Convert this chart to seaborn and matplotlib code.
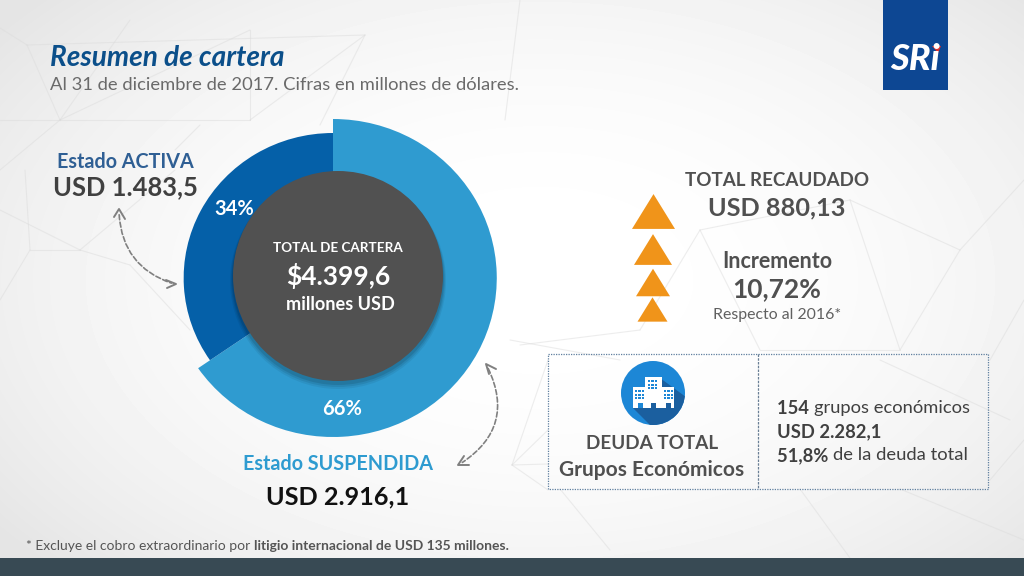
"""
Resumen de cartera - donut chart slide, redrawn with seaborn/matplotlib.
Output: out.png
"""

import numpy as np
import pandas as pd
import matplotlib
matplotlib.use("Agg")
import matplotlib.pyplot as plt
import seaborn as sns
from matplotlib.patches import Circle, Rectangle, Polygon, FancyArrowPatch

# Data
estados = ["Estado SUSPENDIDA", "Estado ACTIVA"]
# slice shares as drawn on the slide (its labels round them to 66% / 34%)
cartera_pct = [65.4, 34.6]
porcentajes = ["66%", "34%"]
triangulos_x = [653.5, 653, 653, 652.5]
triangulos_y = [211.5, 249.5, 282.5, 309.5]
triangulos_ancho = [43, 38, 34, 30]

# Colours
AZUL_CLARO = "#2f9bd0"
AZUL_OSCURO = "#0560a8"
GRIS_CENTRO = "#515151"
NARANJA = "#f0941a"
TEXTO = "#505050"

sns.set_theme(style="white")
plt.rcParams["font.family"] = ["Lato", "DejaVu Sans"]

fig = plt.figure(figsize=(10.24, 5.76), dpi=100)

# --- Background: soft vignette and faint network lines ---
bg = fig.add_axes([0, 0, 1, 1], zorder=0)
yy, xx = np.mgrid[0:576, 0:1024]
dist = np.sqrt(((xx - 540) / 620) ** 2 + ((yy - 280) / 380) ** 2)
bg.imshow(1 - 0.085 * np.clip(dist, 0, 1.1) ** 2.2, cmap="gray", vmin=0, vmax=1,
          extent=(0, 1024, 576, 0), aspect="auto")
lineas = [
    ((27, 45), (365, 35)), ((27, 45), (60, 120)), ((0, 28), (27, 45)), ((60, 120), (250, 30)),
    ((365, 35), (250, 120)), ((365, 35), (320, 125)), ((250, 30), (250, 120)), ((60, 120), (250, 120)),
    ((130, 20), (60, 120)), ((0, 120), (60, 120)), ((60, 120), (0, 170)), ((200, 125), (175, 150)),
    ((30, 250), (80, 250)), ((30, 250), (0, 300)), ((80, 250), (0, 210)), ((80, 250), (130, 265)),
    ((30, 250), (25, 170)), ((80, 250), (175, 170)), ((130, 265), (190, 330)), ((520, 0), (505, 120)),
    ((700, 230), (850, 200)), ((700, 230), (760, 350)), ((850, 200), (960, 250)), ((700, 230), (640, 330)),
    ((960, 250), (1024, 180)), ((960, 250), (900, 350)), ((850, 200), (900, 350)), ((760, 350), (900, 350)),
    ((620, 360), (510, 340)), ((512, 465), (548, 360)), ((512, 465), (548, 430)), ((512, 465), (548, 464)),
    ((512, 465), (548, 490)), ((560, 489), (610, 550)), ((800, 489), (850, 558)), ((900, 489), (1024, 540)),
    ((880, 360), (1010, 420)), ((990, 360), (1024, 300)), ((640, 330), (520, 345)), ((990, 480), (1024, 440)),
]
for p, q in lineas:
    bg.plot([p[0], q[0]], [p[1], q[1]], color="#dcdcdc", lw=0.8, alpha=0.5)
bg.set_xlim(0, 1024)
bg.set_ylim(576, 0)
bg.axis("off")

# --- Donut: two pies with different radii ---
# 400 px box around the pie centre; x units a bit wider than y, as in the slide
caja = 400
cx, cy = 333, 278
ax_pie = fig.add_axes([(cx - caja / 2) / 1024, 1 - (cy + caja / 2) / 576, caja / 1024, caja / 576],
                      zorder=1)
claro, _ = ax_pie.pie(cartera_pct, colors=[AZUL_CLARO, AZUL_OSCURO], radius=159,
                      startangle=90, counterclock=False, wedgeprops={"lw": 0})
claro[1].set_visible(False)
oscuro, _ = ax_pie.pie(cartera_pct, colors=[AZUL_CLARO, AZUL_OSCURO], radius=145,
                       startangle=90, counterclock=False, wedgeprops={"lw": 0})
oscuro[0].set_visible(False)
ax_pie.set_aspect("auto")
ax_pie.set_xlim(-caja / 2 / 1.03, caja / 2 / 1.03)
ax_pie.set_ylim(-caja / 2, caja / 2)
ax_pie.axis("off")

# --- Everything else in pixel coordinates ---
ax = fig.add_axes([0, 0, 1, 1], zorder=2)
ax.patch.set_alpha(0)

# Triangles
df_tri = pd.DataFrame({"x": triangulos_x, "y": triangulos_y,
                       "s": (np.array(triangulos_ancho) * 0.72) ** 2})
marca = np.array([[-1, -0.81], [1, -0.81], [0, 0.81], [-1, -0.81]])
sns.scatterplot(data=df_tri, x="x", y="y", s=df_tri["s"], marker=marca, color=NARANJA,
                linewidth=0, legend=False, ax=ax)

ax.set_xlim(0, 1024)
ax.set_ylim(576, 0)
ax.axis("off")

# Centre of the donut, with a soft shadow
for i, a in zip([6, 4, 2], [0.06, 0.08, 0.10]):
    ax.add_patch(Circle((338, 278 + i / 2), 105 + i / 2, color="#000000", alpha=a, lw=0))
ax.add_patch(Circle((338, 276), 105, color=GRIS_CENTRO, lw=0))

# Header logo and footer bar
ax.add_patch(Rectangle((883, 0), 65, 90, color="#0d4793", lw=0))
ax.text(915, 60, "SRi", color="white", fontsize=26, fontweight="black", style="italic",
        ha="center", va="center")
ax.add_patch(Polygon([(932, 46), (941, 46), (938, 53)], color="#e0302a", lw=0))
ax.add_patch(Rectangle((0, 558), 1024, 18, color="#384a54", lw=0))


def txt(x, y, s, size, color=TEXTO, weight="normal", ha="center", **kw):
    return ax.text(x, y, s, fontsize=size, color=color, fontweight=weight, ha=ha,
                   va="center_baseline", **kw)


def tramos(x, y, partes, size, color=TEXTO):
    # runs of normal and bold text on one line
    r = fig.canvas.get_renderer()
    for s, weight in partes:
        t = txt(x, y, s, size, color=color, weight=weight, ha="left")
        x += t.get_window_extent(r).width


txt(50, 55, "Resumen de cartera", 20.2, color="#0b4f8a", weight="bold", ha="left", style="italic")
txt(50, 84, "Al 31 de diciembre de 2017. Cifras en millones de dólares.", 13.2, color="#6a6a6a", ha="left")

txt(125, 160, estados[1], 14.2, color="#2f5f94", weight="bold")
txt(125, 185, "USD 1.483,5", 18.4, color="#404040", weight="bold")
txt(234, 207, porcentajes[1], 14.5, color="white", weight="bold")
txt(342, 407, porcentajes[0], 14.5, color="white", weight="bold")
txt(338, 247, "TOTAL DE CARTERA", 9.7, color="white", weight="bold")
txt(338, 274, "$4.399,6", 19, color="white", weight="bold")
txt(340, 303, "millones USD", 13.1, color="white", weight="bold")
txt(338, 462, estados[0], 14.25, color="#2e9bd0", weight="bold")
txt(338, 495, "USD 2.916,1", 18.2, color="#111111", weight="bold")

txt(777, 179, "TOTAL RECAUDADO", 13.5, color="#505050", weight="bold")
txt(777, 206, "USD 880,13", 18.2, color="#505050", weight="bold")
txt(777, 260, "Incremento", 15.5, color="#505050", weight="bold")
txt(777, 287, "10,72%", 19, color="#505050", weight="bold")
txt(777, 313, "Respecto al 2016*", 11.4, color="#606060")

tramos(26, 545, [("* Excluye el cobro extraordinario por ", "normal"),
                 ("litigio internacional de USD 135 millones.", "bold")], 10, color="#555555")

# Dashed curved arrows with open heads
for ini, fin, rad in [((119, 212), (174, 284), 0.35), ((487, 366), (460, 464), -0.45)]:
    ax.add_patch(FancyArrowPatch(ini, fin, connectionstyle=f"arc3,rad={rad}", arrowstyle="-",
                                 color="#808080", lw=1.2, ls=(0, (3, 1.5))))
for cabeza in [[(114, 217), (119, 209), (125, 219)], [(166, 280), (176, 284), (167, 288)],
               [(496, 369), (486, 364), (489, 374)], [(464, 456), (458, 465), (469, 465)]]:
    ax.plot(*zip(*cabeza), color="#808080", lw=1.4)

# Dotted box
ax.add_patch(Rectangle((548, 354), 440, 135, fill=False, ec="#5f7f9f", lw=0.9, ls=(0, (1, 1))))
ax.plot([758, 758], [354, 489], color="#6a7f95", lw=0.9, ls=(0, (2, 1)))

# Building icon
icono = Circle((653, 393), 32, color="#1d87d6", lw=0)
ax.add_patch(icono)
sombra = Polygon([(633, 408), (660, 378), (690, 400), (690, 430), (655, 430)], color="#1b5f9f", lw=0)
ax.add_patch(sombra)
sombra.set_clip_path(icono)
ax.add_patch(Rectangle((633, 387), 13, 21, color="white", lw=0))
ax.add_patch(Rectangle((645, 377), 17, 31, color="white", lw=0))
ax.add_patch(Rectangle((662, 387), 12, 21, color="white", lw=0))
for bx, by, nx, ny in [(635, 390, 3, 3), (648, 380, 3, 3), (664, 390, 3, 3)]:
    for i in range(nx):
        for j in range(ny):
            ax.add_patch(Rectangle((bx + i * 3.4, by + j * 3.6), 2.2, 2.2, color="#1d87d6", lw=0))
for rx, col in [(638, "#1d87d6"), (651, "#1b5f9f"), (666, "#1b5f9f")]:
    ax.add_patch(Rectangle((rx, 403), 4.5, 5, color=col, lw=0))

txt(652, 442, "DEUDA TOTAL", 13.6, color="#505050", weight="bold")
txt(652, 468, "Grupos Económicos", 15, color="#505050", weight="bold")
tramos(777, 407, [("154 ", "bold"), ("grupos económicos", "normal")], 13.2, color="#404040")
tramos(777, 430, [("USD 2.282,1", "bold")], 13.2, color="#404040")
tramos(777, 454, [("51,8% ", "bold"), ("de la deuda total", "normal")], 13.2, color="#404040")

fig.savefig("out.png", dpi=100)
plt.close(fig)
